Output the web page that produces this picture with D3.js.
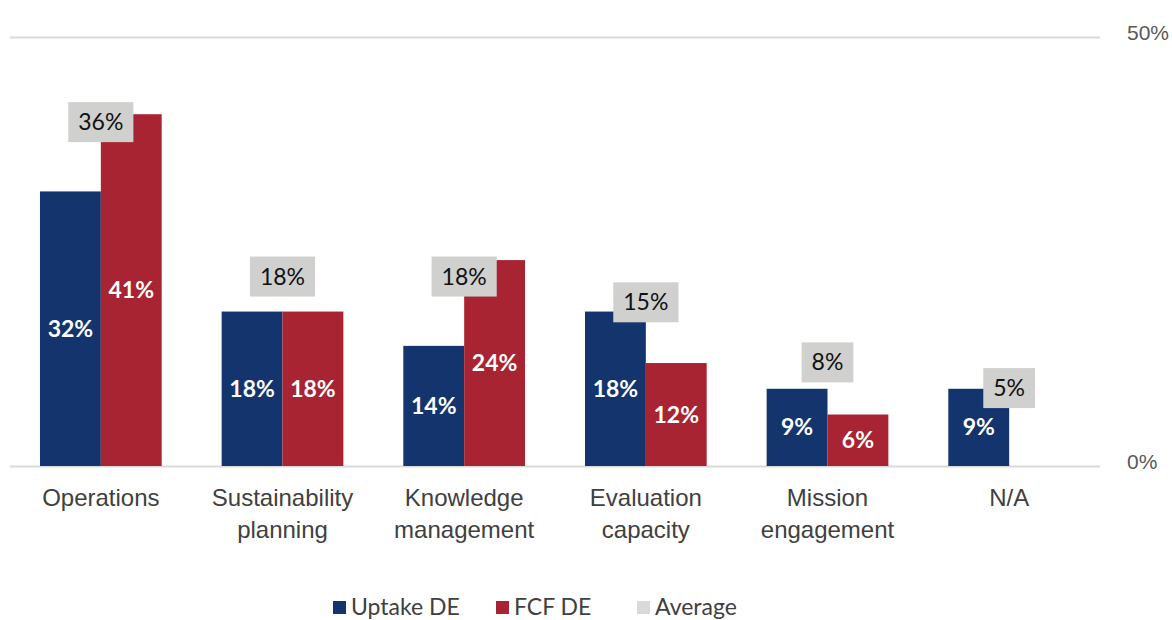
<!DOCTYPE html>
<html><head><meta charset="utf-8">
<script src="https://cdn.jsdelivr.net/npm/d3@7"></script>
<style>
html,body{margin:0;padding:0;background:#fff;}
svg{display:block;font-family:Lato, "Open Sans", sans-serif;}
</style></head>
<body><svg id="chart" width="1172" height="620"></svg>
<script>
const categories = ["Operations","Sustainability planning","Knowledge management","Evaluation capacity","Mission engagement","N/A"];
const categoryLines = [["Operations"],["Sustainability","planning"],["Knowledge","management"],["Evaluation","capacity"],["Mission","engagement"],["N/A"]];
const uptakeDE = [0.32,0.18,0.14,0.18,0.09,0.09];
const fcfDE = [0.41,0.18,0.24,0.12,0.06,0];
const average = [0.36,0.18,0.18,0.15,0.08,0.05];
const seriesNames = ["Uptake DE","FCF DE","Average"];
const colors = ["#14346e","#a92433","#d0d0cf"];
const yTicks = [0,0.5];

(function(){
const svg = d3.select("#chart");
const mLeft = 10, mRight = 1100, mTop = 37, mBottom = 466;
const x = d3.scaleBand().domain(categories).range([mLeft,mRight]).paddingInner(0.33).paddingOuter(0.165);
const sub = d3.scaleBand().domain([0,1]).range([0,x.bandwidth()]);
const y = d3.scaleLinear().domain([0,0.5]).range([mBottom,mTop]);
const pct = d3.format(".0%");

const yAxis = svg.append("g").attr("transform",`translate(${mRight},0)`)
  .call(d3.axisRight(y).tickValues(yTicks).tickFormat(pct).tickSize(-(mRight-mLeft)).tickPadding(27));
yAxis.select(".domain").remove();
yAxis.selectAll(".tick line").attr("stroke","#d9d9d9").attr("stroke-width",2);
yAxis.selectAll(".tick text").attr("fill","#595959").style("font-size","21px").attr("dy","0.1em");

const xAxis = svg.append("g").attr("transform",`translate(0,${mBottom})`)
  .call(d3.axisBottom(x).tickSize(0).tickFormat(""));
xAxis.select(".domain").remove();
xAxis.selectAll(".tick").each(function(d,i){
  const t = d3.select(this).append("text").attr("fill","#404040").attr("text-anchor","middle").style("font-size","24px");
  categoryLines[i].forEach((ln,j)=>{
    t.append("tspan").attr("x",0).attr("y",32+j*32).attr("dy","0.35em").text(ln);
  });
});

[uptakeDE, fcfDE].forEach((vals,s)=>{
  const g = svg.append("g");
  vals.forEach((v,i)=>{
    if(v<=0) return;
    const bx = x(categories[i]) + sub(s);
    g.append("rect").attr("x",bx).attr("y",y(v)).attr("width",sub.bandwidth()).attr("height",y(0)-y(v)).attr("fill",colors[s]);
    g.append("text").attr("x",bx+sub.bandwidth()/2).attr("y",(y(v)+y(0))/2).attr("dy","0.35em")
      .attr("text-anchor","middle").attr("fill","#fff").style("font-size","23px").style("font-weight","700").text(pct(v));
  });
});

const ag = svg.append("g");
average.forEach((v,i)=>{
  const cx = x(categories[i]) + x.bandwidth()/2;
  const cy = y(v) - 35;
  const txt = ag.append("text").attr("x",cx).attr("y",cy).attr("dy","0.35em").attr("text-anchor","middle")
    .attr("fill","#111").style("font-size","23px").text(pct(v));
  const w = txt.node().getComputedTextLength() + 20;
  ag.insert("rect","text").attr("x",cx-w/2).attr("y",cy-20).attr("width",w).attr("height",40).attr("fill",colors[2]);
});
ag.selectAll("text").raise();

const legendX = [333,496,637];
const lg = svg.append("g").attr("transform","translate(0,607)");
seriesNames.forEach((n,i)=>{
  lg.append("rect").attr("x",legendX[i]).attr("y",-6).attr("width",13).attr("height",13).attr("fill",i==2?"#d9d9d9":colors[i]);
  lg.append("text").attr("x",legendX[i]+18).attr("y",0).attr("dy","0.35em").attr("fill","#404040").style("font-size","23px").text(n);
});
})();
</script></body></html>
